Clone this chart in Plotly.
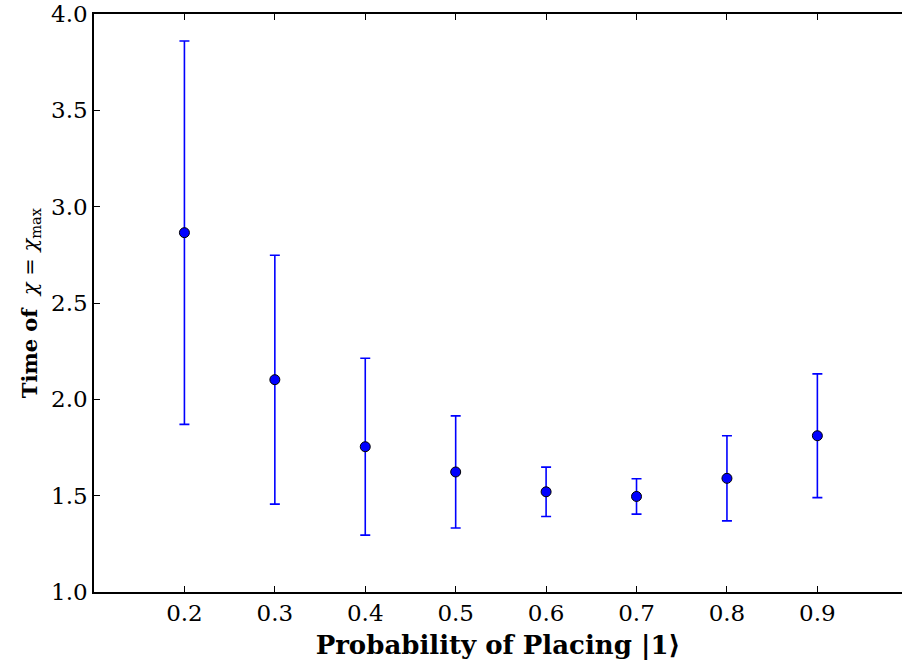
import plotly.graph_objects as go

prob = [0.2, 0.3, 0.4, 0.5, 0.6, 0.7, 0.8, 0.9]
time_mean = [2.865, 2.102, 1.754, 1.623, 1.520, 1.496, 1.590, 1.811]
time_err = [0.995, 0.646, 0.459, 0.291, 0.128, 0.092, 0.221, 0.321]
x_ticks = [0.2, 0.3, 0.4, 0.5, 0.6, 0.7, 0.8, 0.9]
y_ticks = [1.0, 1.5, 2.0, 2.5, 3.0, 3.5, 4.0]

font_family = "DejaVu Serif"

fig = go.Figure()
fig.add_trace(go.Scatter(
    x=prob, y=time_mean, mode="markers",
    marker=dict(size=10, color="#0000ff", line=dict(color="black", width=1)),
    error_y=dict(type="data", array=time_err, visible=True,
                 color="#0000ff", thickness=1.6, width=5),
    showlegend=False,
))

fig.update_layout(
    width=902, height=667,
    margin=dict(l=94, r=0, t=14, b=75),
    plot_bgcolor="white", paper_bgcolor="white",
    font=dict(family=font_family, size=23, color="black"),
    xaxis=dict(
        range=[0.1, 0.9936], tickvals=x_ticks,
        ticktext=[f"{v:.1f}" for v in x_ticks],
        tickfont=dict(size=23),
        showgrid=False, zeroline=False,
        showline=True, linecolor="black", linewidth=1.5, mirror="ticks",
        ticks="inside", ticklen=6, tickcolor="black", tickwidth=1,
        title=dict(text="<b>Probability of Placing |1⟩</b>", standoff=10,
                   font=dict(family=font_family, size=26)),
    ),
    yaxis=dict(
        range=[1.0, 4.0], tickvals=y_ticks,
        ticktext=[f"{v:.1f}" for v in y_ticks],
        tickfont=dict(size=23),
        showgrid=False, zeroline=False,
        showline=True, linecolor="black", linewidth=1.5, mirror=False,
        ticks="inside", ticklen=6, tickcolor="black", tickwidth=1,
        title=dict(text="<b>Time of</b>  <i>χ</i> = <i>χ</i><sub>max</sub>", standoff=8,
                   font=dict(family=font_family, size=21)),
    ),
)

fig.write_html("out.html")
